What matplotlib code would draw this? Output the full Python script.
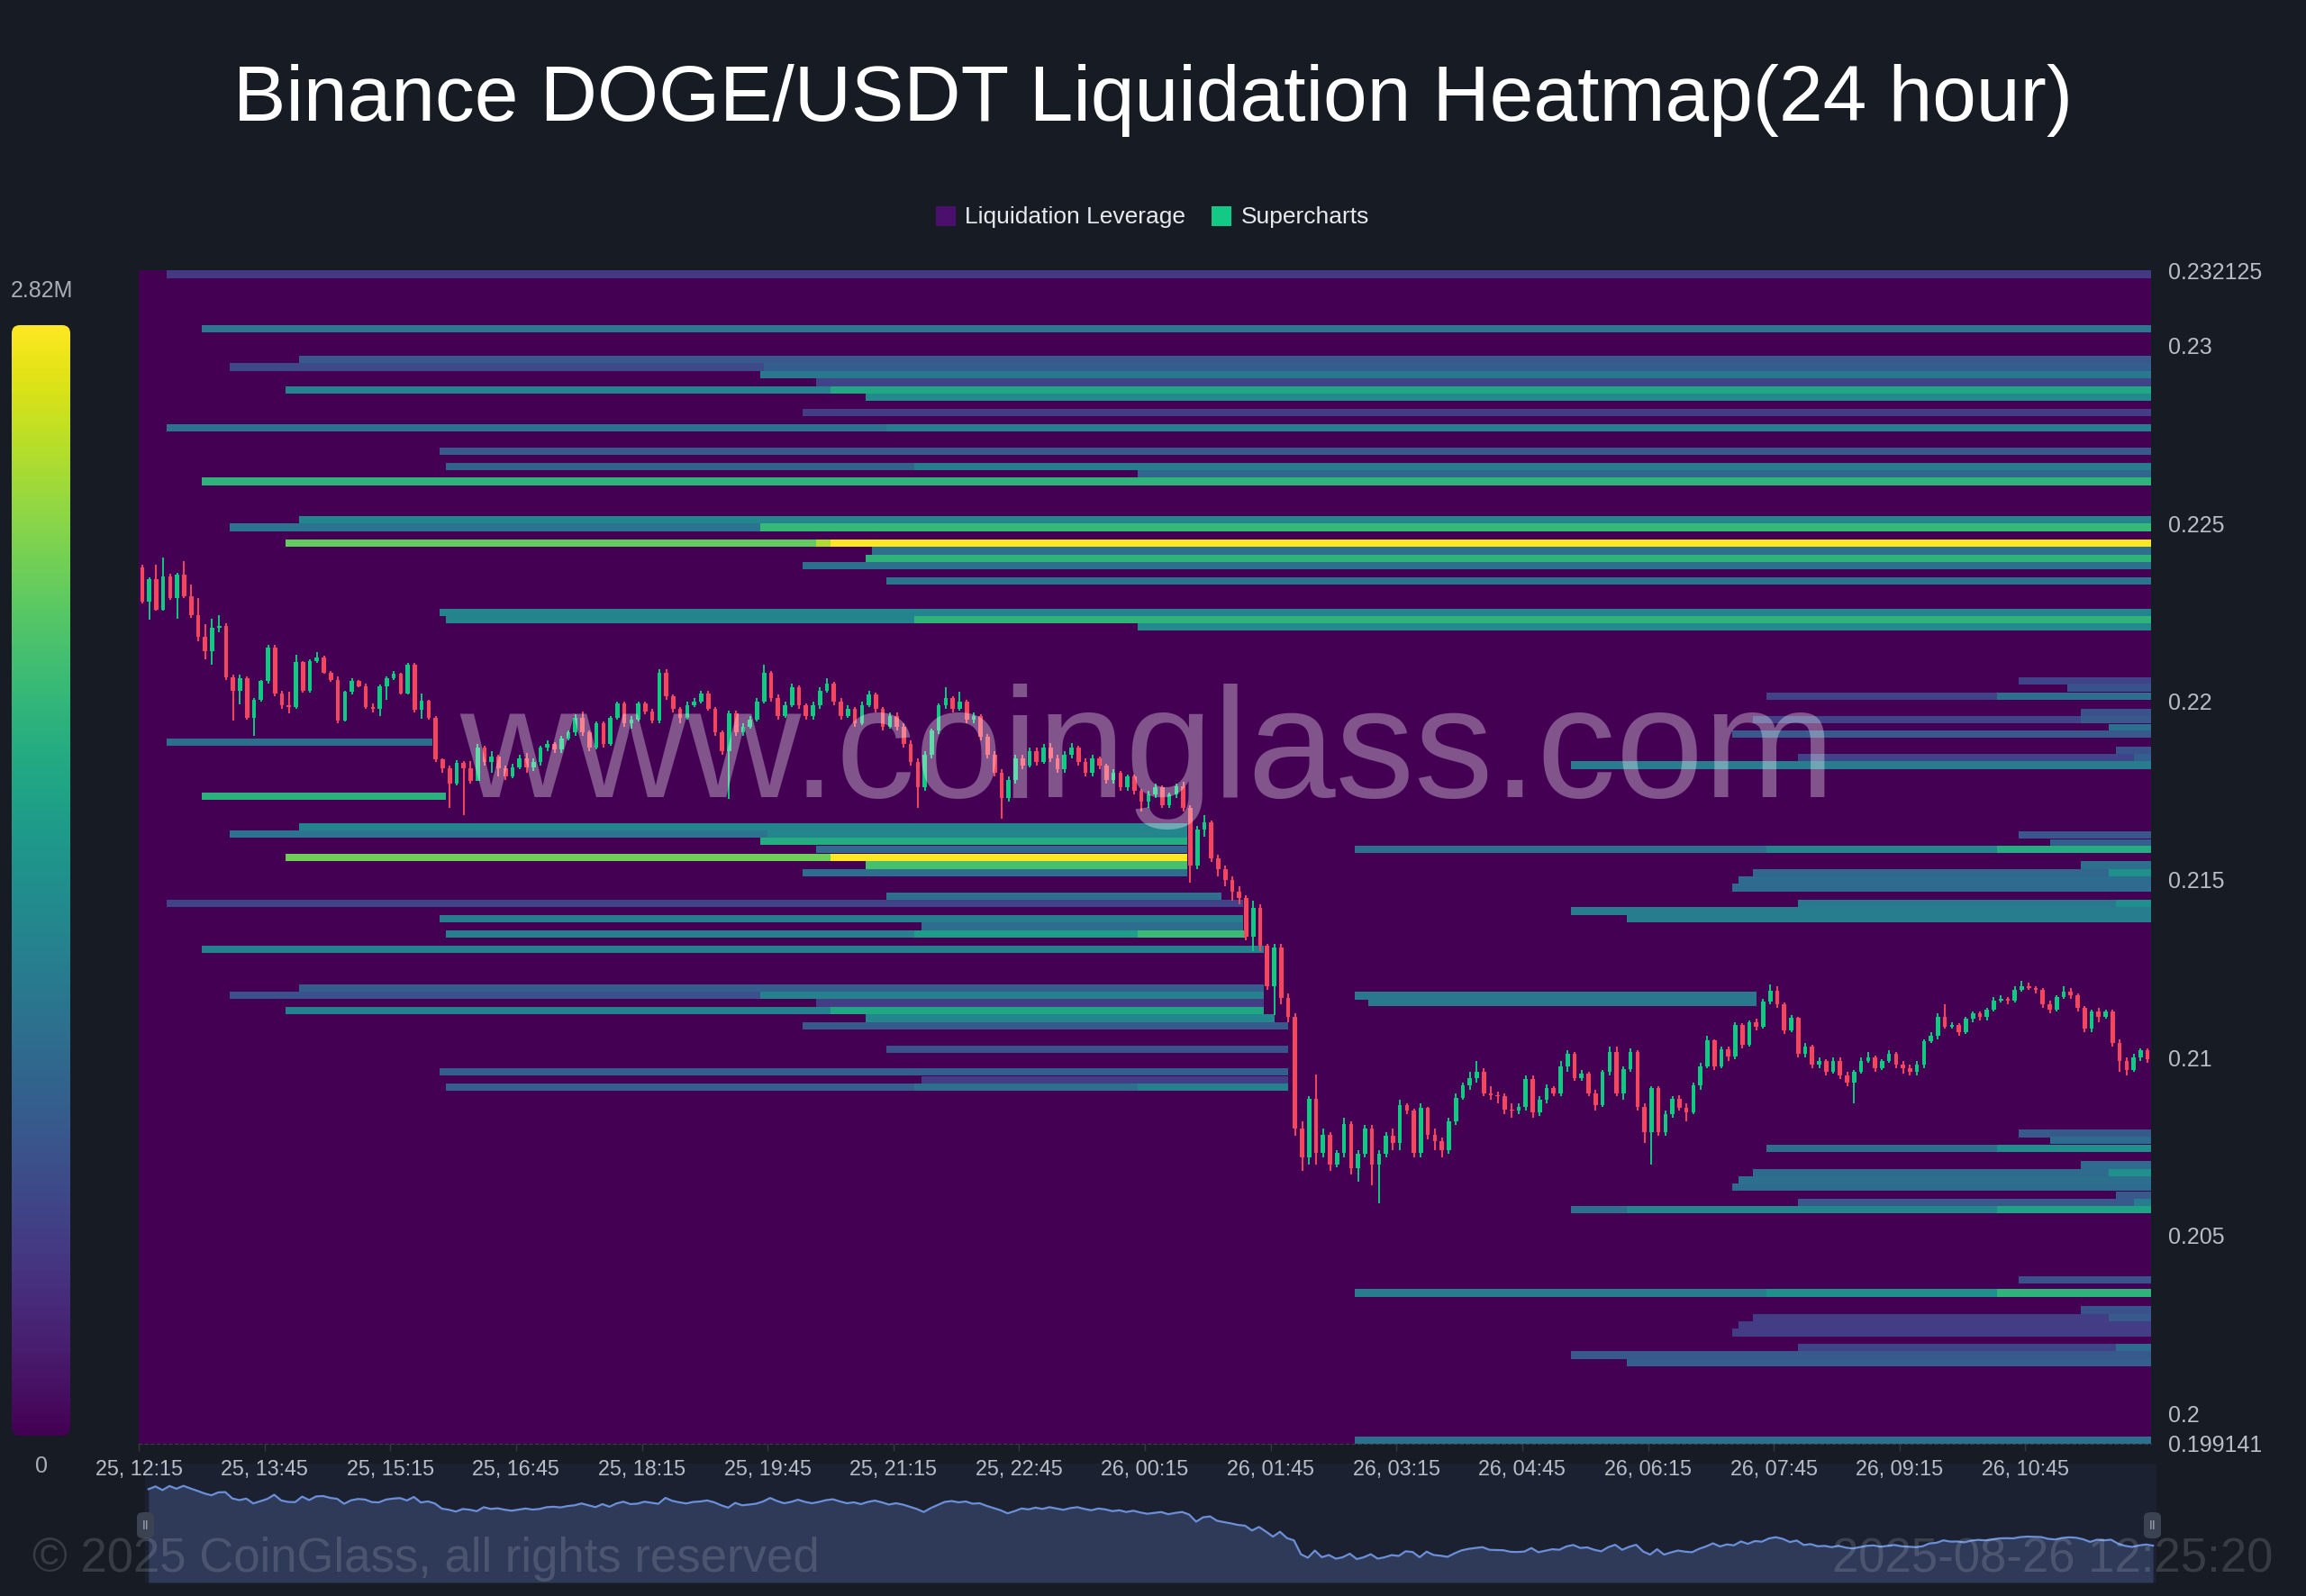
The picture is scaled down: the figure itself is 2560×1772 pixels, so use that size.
import numpy as np
import matplotlib
matplotlib.use("Agg")
import matplotlib.pyplot as plt
from matplotlib.patches import FancyBboxPatch, Rectangle

# ---------------- data ----------------
TITLE = "Binance DOGE/USDT Liquidation Heatmap(24 hour)"
VMAX = 2.82  # millions
P_MIN, P_MAX = 0.199141, 0.232125
HOURS = 24.0
BAND_H = 0.00021

x_tick_labels = ["25, 12:15", "25, 13:45", "25, 15:15", "25, 16:45", "25, 18:15",
                 "25, 19:45", "25, 21:15", "25, 22:45", "26, 00:15", "26, 01:45",
                 "26, 03:15", "26, 04:45", "26, 06:15", "26, 07:45", "26, 09:15",
                 "26, 10:45"]
x_tick_hours = [0, 1.5, 3, 4.5, 6, 7.5, 9, 10.5, 12, 13.5, 15, 16.5, 18, 19.5, 21, 22.5]
y_tick_values = [0.232125, 0.23, 0.225, 0.22, 0.215, 0.21, 0.205, 0.2, 0.199141]
y_tick_labels = ["0.232125", "0.23", "0.225", "0.22", "0.215", "0.21", "0.205", "0.2", "0.199141"]

# heatmap segments: price level, start hour, end hour, intensity (share of 2.82M)
seg_price = [
    0.232010, 0.230487, 0.229614, 0.229404, 0.229404, 0.229192, 0.228973, 0.228753, 0.228753,
    0.228551, 0.228125, 0.227687, 0.227687, 0.227042, 0.226599, 0.226599, 0.226391, 0.226189,
    0.225100, 0.224898, 0.224898, 0.224447, 0.224447, 0.224447, 0.224239, 0.224024, 0.223814,
    0.223384, 0.222510, 0.222298, 0.222298, 0.222095,
    0.218855, 0.217349, 0.216468, 0.216270, 0.216270, 0.216068, 0.215842, 0.215625, 0.215625,
    0.215405, 0.215197, 0.214536, 0.214334, 0.213898, 0.213683, 0.213473, 0.213473, 0.213473,
    0.213043, 0.211954, 0.211741, 0.211741, 0.211531, 0.211321, 0.211321, 0.211101, 0.210891,
    0.210235, 0.209587, 0.209374, 0.209164, 0.209164, 0.209164,
    0.220589, 0.220392, 0.220143, 0.220143, 0.219690, 0.219498, 0.219498, 0.219268, 0.219090,
    0.218635, 0.218425, 0.218425, 0.218212, 0.216245, 0.216030, 0.215842, 0.215842, 0.215842,
    0.215402, 0.215192, 0.215192, 0.214982, 0.214772, 0.214313, 0.214313, 0.214111, 0.213901,
    0.211734, 0.211544, 0.207861, 0.207671, 0.207443, 0.207443, 0.206974, 0.206759, 0.206759,
    0.206557, 0.206354, 0.206125, 0.205924, 0.205924, 0.205726, 0.205726, 0.205726, 0.203747,
    0.203380, 0.203380, 0.203380, 0.202899, 0.202684, 0.202684, 0.202481, 0.202271, 0.201848,
    0.201848, 0.201638, 0.201423, 0.199246,
]
seg_start = [
    0.35, 0.77, 1.92, 1.10, 7.47, 7.42, 8.08, 1.76, 8.24,
    8.68, 7.92, 0.35, 8.90, 3.60, 3.67, 9.25, 11.90, 0.77,
    1.92, 1.10, 7.42, 1.76, 8.08, 8.24, 8.75, 8.68, 7.92,
    8.93, 3.60, 3.67, 9.25, 11.90,
    0.34, 0.76, 1.93, 1.10, 7.49, 7.42, 8.08, 1.76, 8.24,
    8.67, 7.92, 8.93, 0.34, 3.60, 9.33, 3.67, 9.25, 11.90,
    0.76, 1.93, 1.10, 7.42, 8.08, 1.76, 8.24, 8.67, 7.92,
    8.93, 3.60, 9.33, 3.67, 9.25, 11.90,
    22.40, 23.00, 19.40, 22.15, 23.15, 19.25, 23.15, 23.50, 19.00,
    23.60, 19.80, 23.80, 17.10, 22.40, 22.80, 14.50, 19.40, 22.15,
    23.15, 19.25, 23.50, 19.07, 19.00, 19.80, 23.60, 17.10, 17.75,
    14.50, 14.66, 22.40, 22.80, 19.40, 22.15, 23.15, 19.25, 23.50,
    19.07, 19.00, 23.60, 19.80, 23.80, 17.10, 17.75, 22.15, 22.40,
    14.50, 19.40, 22.15, 23.15, 19.25, 23.50, 19.07, 19.00, 19.80,
    23.60, 17.10, 17.75, 14.50,
]
seg_end = [
    24, 24, 24, 7.47, 24, 24, 24, 8.24, 24,
    24, 24, 8.90, 24, 24, 9.25, 24, 24, 24,
    24, 7.42, 24, 8.08, 8.24, 24, 24, 24, 24,
    24, 24, 9.25, 24, 24,
    3.49, 3.65, 12.50, 7.49, 12.50, 12.50, 12.50, 8.24, 12.50,
    12.50, 12.50, 12.90, 13.15, 13.15, 13.15, 9.25, 11.90, 13.20,
    13.40, 13.40, 7.42, 13.40, 13.40, 8.24, 13.40, 13.56, 13.70,
    13.70, 13.70, 13.70, 9.25, 11.90, 13.70,
    24, 24, 22.15, 24, 24, 23.15, 24, 24, 24,
    24, 23.80, 24, 24, 24, 24, 19.40, 22.15, 24,
    24, 23.50, 24, 24, 24, 23.60, 24, 24, 24,
    19.30, 19.30, 24, 24, 22.15, 24, 24, 23.50, 24,
    24, 24, 24, 23.80, 24, 17.75, 22.15, 24, 24,
    19.40, 22.15, 24, 24, 23.50, 24, 24, 24, 23.60,
    24, 24, 24, 24,
]
seg_level = [
    0.17, 0.40, 0.28, 0.22, 0.30, 0.40, 0.20, 0.45, 0.60,
    0.48, 0.18, 0.38, 0.43, 0.28, 0.32, 0.42, 0.33, 0.65,
    0.46, 0.38, 0.67, 0.76, 0.88, 1.00, 0.37, 0.65, 0.37,
    0.39, 0.45, 0.45, 0.65, 0.47,
    0.36, 0.64, 0.45, 0.38, 0.46, 0.62, 0.35, 0.78, 1.00,
    0.71, 0.36, 0.37, 0.20, 0.42, 0.36, 0.44, 0.56, 0.68,
    0.44, 0.30, 0.25, 0.44, 0.18, 0.44, 0.60, 0.46, 0.28,
    0.25, 0.30, 0.18, 0.30, 0.37, 0.44,
    0.20, 0.25, 0.20, 0.37, 0.25, 0.20, 0.28, 0.37, 0.28,
    0.25, 0.20, 0.30, 0.42, 0.27, 0.30, 0.37, 0.46, 0.62,
    0.37, 0.33, 0.50, 0.35, 0.35, 0.40, 0.50, 0.42, 0.42,
    0.40, 0.40, 0.28, 0.35, 0.37, 0.50, 0.35, 0.35, 0.50,
    0.37, 0.35, 0.28, 0.28, 0.42, 0.37, 0.46, 0.58, 0.25,
    0.42, 0.50, 0.65, 0.25, 0.18, 0.28, 0.18, 0.18, 0.20,
    0.35, 0.28, 0.30, 0.37,
]

# 5-minute candles, prices in units of 1e-5 USDT
open_first = 22377
close = [
    22280, 22343, 22259, 22352, 22290, 22356, 22297, 22242, 22183, 22141, 22208, 22213,
    22069, 22031, 22065, 21955, 22006, 22057, 22153, 22023, 21989, 21985, 22111, 22031,
    22115, 22124, 22082, 22061, 21947, 22027, 22057, 22044, 21985, 21980, 22044, 22065,
    22078, 22023, 22103, 21977, 22002, 21955, 21837, 21812, 21770, 21829, 21812, 21778,
    21870, 21830, 21845, 21812, 21790, 21815, 21840, 21815, 21830, 21870, 21880, 21865,
    21896, 21913, 21955, 21913, 21871, 21940, 21880, 21955, 21995, 21940, 21950, 21995,
    21972, 21947, 22082, 22014, 21980, 21955, 21990, 22000, 22023, 21980, 21913, 21860,
    21968, 21913, 21930, 21950, 22000, 22080, 22010, 21960, 21990, 22040, 21990, 21960,
    21990, 22030, 22050, 22000, 21960, 21980, 21940, 21990, 22020, 21980, 21930, 21960,
    21930, 21880, 21830, 21760, 21850, 21920, 21990, 22010, 21980, 22000, 21950, 21960,
    21900, 21850, 21800, 21730, 21780, 21840, 21820, 21860, 21830, 21870, 21840, 21810,
    21850, 21870, 21830, 21800, 21840, 21820, 21780, 21800, 21760, 21790, 21750, 21720,
    21740, 21760, 21710, 21740, 21761, 21702, 21540, 21640, 21660, 21560, 21530, 21500,
    21466, 21449, 21339, 21420, 21314, 21200, 21310, 21166, 21115, 20799, 20719, 20883,
    20731, 20782, 20698, 20731, 20812, 20689, 20730, 20800, 20698, 20730, 20780, 20760,
    20866, 20850, 20731, 20858, 20782, 20765, 20740, 20820, 20887, 20921, 20942, 20960,
    20900, 20895, 20890, 20854, 20850, 20860, 20940, 20845, 20880, 20913, 20900, 20976,
    21010, 20942, 20955, 20900, 20866, 20959, 21014, 20900, 20968, 21014, 20862, 20791,
    20913, 20791, 20841, 20883, 20858, 20845, 20921, 20976, 21048, 20976, 21023, 21002,
    21090, 21035, 21099, 21085, 21158, 21187, 21149, 21077, 21111, 21010, 21030, 20980,
    20990, 20960, 20990, 20950, 20930, 20960, 20990, 21000, 20970, 20990, 21010, 20980,
    20970, 20960, 20980, 21045, 21060, 21115, 21087, 21090, 21070, 21110, 21125, 21115,
    21135, 21160, 21165, 21160, 21190, 21200, 21195, 21190, 21150, 21135, 21170, 21185,
    21175, 21140, 21080, 21130, 21115, 21130, 21040, 20990, 20965, 21000, 21020, 20995,
]
high = [
    22385, 22350, 22385, 22405, 22360, 22362, 22395, 22330, 22290, 22217, 22234, 22242,
    22220, 22075, 22075, 22070, 22010, 22060, 22160, 22160, 22030, 22027, 22132, 22115,
    22120, 22140, 22130, 22085, 22070, 22030, 22065, 22060, 22050, 21995, 22048, 22070,
    22085, 22082, 22110, 22110, 22023, 22005, 21960, 21840, 21820, 21835, 21833, 21833,
    21880, 21875, 21860, 21850, 21820, 21825, 21850, 21855, 21840, 21875, 21890, 21885,
    21905, 21920, 21965, 21972, 21920, 21945, 21945, 21960, 22000, 22000, 21960, 22000,
    22000, 21980, 22090, 22090, 22020, 21985, 22000, 22010, 22030, 22030, 21985, 21920,
    21975, 21975, 21940, 21960, 22010, 22105, 22085, 22020, 22000, 22050, 22045, 21995,
    22000, 22040, 22065, 22055, 22010, 21990, 21985, 22000, 22030, 22025, 21985, 21970,
    21970, 21940, 21890, 21840, 21860, 21925, 21995, 22040, 22015, 22029, 22005, 21970,
    21965, 21910, 21860, 21810, 21790, 21850, 21850, 21870, 21870, 21880, 21884, 21850,
    21860, 21884, 21875, 21840, 21850, 21845, 21825, 21810, 21805, 21795, 21795, 21755,
    21750, 21770, 21765, 21745, 21770, 21774, 21710, 21650, 21680, 21665, 21570, 21540,
    21510, 21480, 21455, 21440, 21430, 21320, 21320, 21320, 21180, 21125, 20820, 20890,
    20951, 20800, 20790, 20740, 20830, 20820, 20740, 20810, 20810, 20740, 20790, 20800,
    20880, 20870, 20855, 20870, 20860, 20800, 20775, 20830, 20900, 20930, 20960, 20990,
    20970, 20920, 20905, 20900, 20870, 20870, 20950, 20950, 20890, 20925, 20920, 20990,
    21020, 21015, 20965, 20960, 20910, 20965, 21030, 21030, 20975, 21025, 21020, 20870,
    20920, 20920, 20850, 20890, 20895, 20870, 20930, 20985, 21060, 21050, 21030, 21030,
    21100, 21095, 21105, 21110, 21165, 21205, 21200, 21155, 21120, 21115, 21040, 21035,
    21000, 20995, 21000, 21000, 20960, 20965, 21000, 21015, 21005, 20995, 21020, 21015,
    20990, 20980, 20990, 21050, 21070, 21125, 21150, 21100, 21095, 21115, 21130, 21130,
    21140, 21170, 21175, 21170, 21200, 21215, 21210, 21200, 21195, 21160, 21175, 21200,
    21195, 21180, 21145, 21135, 21140, 21135, 21135, 21050, 21000, 21010, 21025, 21025,
]
low = [
    22275, 22230, 22255, 22255, 22285, 22234, 22290, 22235, 22170, 22120, 22103, 22195,
    22060, 21947, 21993, 21950, 21905, 22000, 22050, 22015, 21980, 21968, 21980, 22025,
    22025, 22110, 22078, 22055, 21940, 21945, 22020, 22040, 21980, 21970, 21960, 22006,
    22060, 22020, 22020, 21970, 21951, 21950, 21830, 21800, 21702, 21765, 21680, 21770,
    21776, 21820, 21800, 21790, 21780, 21785, 21810, 21800, 21805, 21820, 21860, 21855,
    21855, 21890, 21905, 21905, 21860, 21865, 21870, 21875, 21950, 21930, 21925, 21945,
    21965, 21940, 21940, 22005, 21970, 21940, 21950, 21985, 21995, 21975, 21905, 21850,
    21727, 21905, 21905, 21925, 21945, 21995, 22000, 21950, 21955, 21985, 21980, 21950,
    21950, 21980, 22025, 21990, 21950, 21955, 21930, 21935, 21985, 21970, 21920, 21925,
    21920, 21870, 21820, 21700, 21750, 21840, 21910, 21980, 21970, 21975, 21940, 21940,
    21890, 21840, 21790, 21670, 21720, 21770, 21810, 21815, 21820, 21825, 21830, 21800,
    21800, 21840, 21820, 21790, 21790, 21810, 21770, 21770, 21750, 21750, 21740, 21690,
    21700, 21730, 21700, 21700, 21730, 21690, 21490, 21530, 21620, 21550, 21510, 21480,
    21440, 21430, 21330, 21300, 21300, 21190, 21120, 21150, 21100, 20780, 20680, 20700,
    20700, 20720, 20680, 20690, 20720, 20670, 20650, 20720, 20640, 20590, 20720, 20740,
    20740, 20840, 20720, 20720, 20770, 20740, 20720, 20730, 20810, 20880, 20910, 20930,
    20890, 20880, 20870, 20840, 20830, 20840, 20850, 20830, 20835, 20870, 20890, 20890,
    20960, 20935, 20935, 20890, 20850, 20860, 20950, 20890, 20880, 20960, 20850, 20760,
    20700, 20780, 20780, 20830, 20850, 20820, 20840, 20910, 20970, 20965, 20970, 20990,
    20995, 21025, 21030, 21075, 21080, 21150, 21140, 21065, 21070, 21000, 21000, 20970,
    20970, 20950, 20955, 20940, 20920, 20870, 20955, 20985, 20960, 20965, 20985, 20970,
    20955, 20950, 20950, 20970, 21040, 21050, 21080, 21080, 21060, 21065, 21100, 21105,
    21105, 21130, 21155, 21150, 21155, 21185, 21190, 21180, 21140, 21125, 21130, 21165,
    21165, 21130, 21070, 21070, 21100, 21110, 21030, 20960, 20950, 20960, 20990, 20985,
]

# ---------------- style ----------------
BG = "#171b23"
LABEL = "#b8bdc6"
RED = "#f6465d"
GREEN = "#0ecb81"
FONT = "Liberation Sans"
W, H = 2560, 1772


def fx(px):
    return px / W


def fy(py):
    return 1 - py / H


plt.rcParams["font.family"] = [FONT, "DejaVu Sans"]
cmap = plt.get_cmap("viridis")

fig = plt.figure(figsize=(25.6, 17.72), dpi=100, facecolor=BG)

# ---------------- heatmap ----------------
ax = fig.add_axes([fx(154), fy(1603), (2388 - 154) / W, (1603 - 300) / H])
ax.set_zorder(2)
nt, npx = 576, 1303
t_c = (np.arange(nt) + 0.5) * HOURS / nt
p_c = P_MIN + (np.arange(npx) + 0.5) * (P_MAX - P_MIN) / npx
Z = np.zeros((npx, nt))
for p, t0, t1, v in zip(seg_price, seg_start, seg_end, seg_level):
    rows = np.abs(p_c - p) <= BAND_H / 2
    cols = (t_c >= t0) & (t_c < t1)
    Z[np.ix_(rows, cols)] = v * VMAX
ax.imshow(Z, extent=[0, HOURS, P_MIN, P_MAX], origin="lower", aspect="auto",
          cmap=cmap, vmin=0, vmax=VMAX, interpolation="nearest", zorder=0)

# candles
c = np.array(close) / 1e5
o = np.array([open_first] + close[:-1]) / 1e5
hi = np.array(high) / 1e5
lo = np.array(low) / 1e5
tt = (np.arange(len(c)) + 0.5) / 12.0
cols = np.where(c >= o, GREEN, RED)
ax.vlines(tt, lo, hi, colors=cols, linewidth=1.4, zorder=3)
body = np.maximum(np.abs(c - o), 0.00003)
ax.bar(tt, body, bottom=np.minimum(o, c), width=0.6 / 12, color=cols,
       linewidth=0, zorder=4)

# watermark
ax.text(0.501, 0.551, "www.coinglass.com", transform=ax.transAxes, ha="center",
        va="baseline", fontsize=126, color="white", alpha=0.33, zorder=6,
        family=FONT)

ax.set_xlim(0, HOURS)
ax.set_ylim(P_MIN, P_MAX)
ax.set_xticks(x_tick_hours)
ax.set_xticklabels(x_tick_labels)
ax.tick_params(axis="x", colors="#323844", length=6, width=1, pad=6,
               labelsize=16.8, labelcolor=LABEL)
ax.yaxis.tick_right()
ax.set_yticks(y_tick_values)
ax.set_yticklabels(y_tick_labels)
ax.tick_params(axis="y", length=0, pad=14, labelsize=18, labelcolor=LABEL)
for s in ax.spines.values():
    s.set_visible(False)
ax.spines["bottom"].set_visible(True)
ax.spines["bottom"].set_color("#3a3f4a")
ax.spines["bottom"].set_linestyle((0, (3, 3)))

# ---------------- colour bar ----------------
cax = fig.add_axes([fx(13), fy(1594), 65 / W, 1233 / H])
grad = np.linspace(0, VMAX, 256)[:, None]
im = cax.imshow(grad, aspect="auto", cmap=cmap, origin="lower",
                extent=[0, 1, 0, VMAX], vmin=0, vmax=VMAX)
clip = FancyBboxPatch((0, 0), 1, 1, boxstyle="round,pad=0,rounding_size=0.14",
                      mutation_aspect=65 / 1233, transform=cax.transAxes,
                      facecolor="none", edgecolor="none")
cax.add_patch(clip)
im.set_clip_path(clip)
cax.axis("off")
fig.text(fx(46), fy(323), "2.82M", ha="center", va="center", fontsize=18, color="#a9aeb8")
fig.text(fx(46), fy(1628), "0", ha="center", va="center", fontsize=18, color="#a9aeb8")

# ---------------- title & legend ----------------
fig.text(0.5, fy(134), TITLE, ha="center", va="baseline", fontsize=63, color="white")
fig.add_artist(Rectangle((fx(1039), fy(251)), 22 / W, 22 / H, transform=fig.transFigure,
                         facecolor="#4b0f6e", edgecolor="none"))
fig.text(fx(1071), fy(248), "Liquidation Leverage", va="baseline", fontsize=19, color="#e8eaed")
fig.add_artist(Rectangle((fx(1345), fy(251)), 22 / W, 22 / H, transform=fig.transFigure,
                         facecolor="#12c985", edgecolor="none"))
fig.text(fx(1378), fy(248), "Supercharts", va="baseline", fontsize=19, color="#e8eaed")

# ---------------- navigator ----------------
nav = fig.add_axes([fx(161), fy(1757), (2394 - 161) / W, (1757 - 1625) / H])
nav.set_zorder(1)
nav.set_facecolor("#1b2131")
NAV_LO, NAV_HI = 0.20156, 0.22862
nav.set_xlim(0, HOURS)
nav.set_ylim(NAV_LO, NAV_HI)
nav.fill_between(tt, c, NAV_LO, color="#2e3a58", linewidth=0)
nav.plot(tt, c, color="#6b8fd9", linewidth=1.6)
nav.set_xticks([])
nav.set_yticks([])
for s in nav.spines.values():
    s.set_visible(False)
for hx in (152, 2380):
    fig.add_artist(FancyBboxPatch((fx(hx), fy(1708)), 19 / W, 29 / H,
                                  boxstyle="round,pad=0,rounding_size=0.003",
                                  transform=fig.transFigure, facecolor="#3b4252",
                                  edgecolor="none", zorder=5))
    fig.text(fx(hx + 9.5), fy(1694), "II", ha="center", va="center", fontsize=10,
             color="#a0a6b0", zorder=6)

# ---------------- footer ----------------
fig.text(fx(36), fy(1745), "\u00a9 2025 CoinGlass, all rights reserved", va="baseline",
         fontsize=38, color="white", alpha=0.14, zorder=10)
fig.text(fx(2523), fy(1745), "2025-08-26 12:25:20", ha="right", va="baseline",
         fontsize=38, color="white", alpha=0.14, zorder=10)

fig.savefig("out.png", dpi=100, facecolor=BG)
